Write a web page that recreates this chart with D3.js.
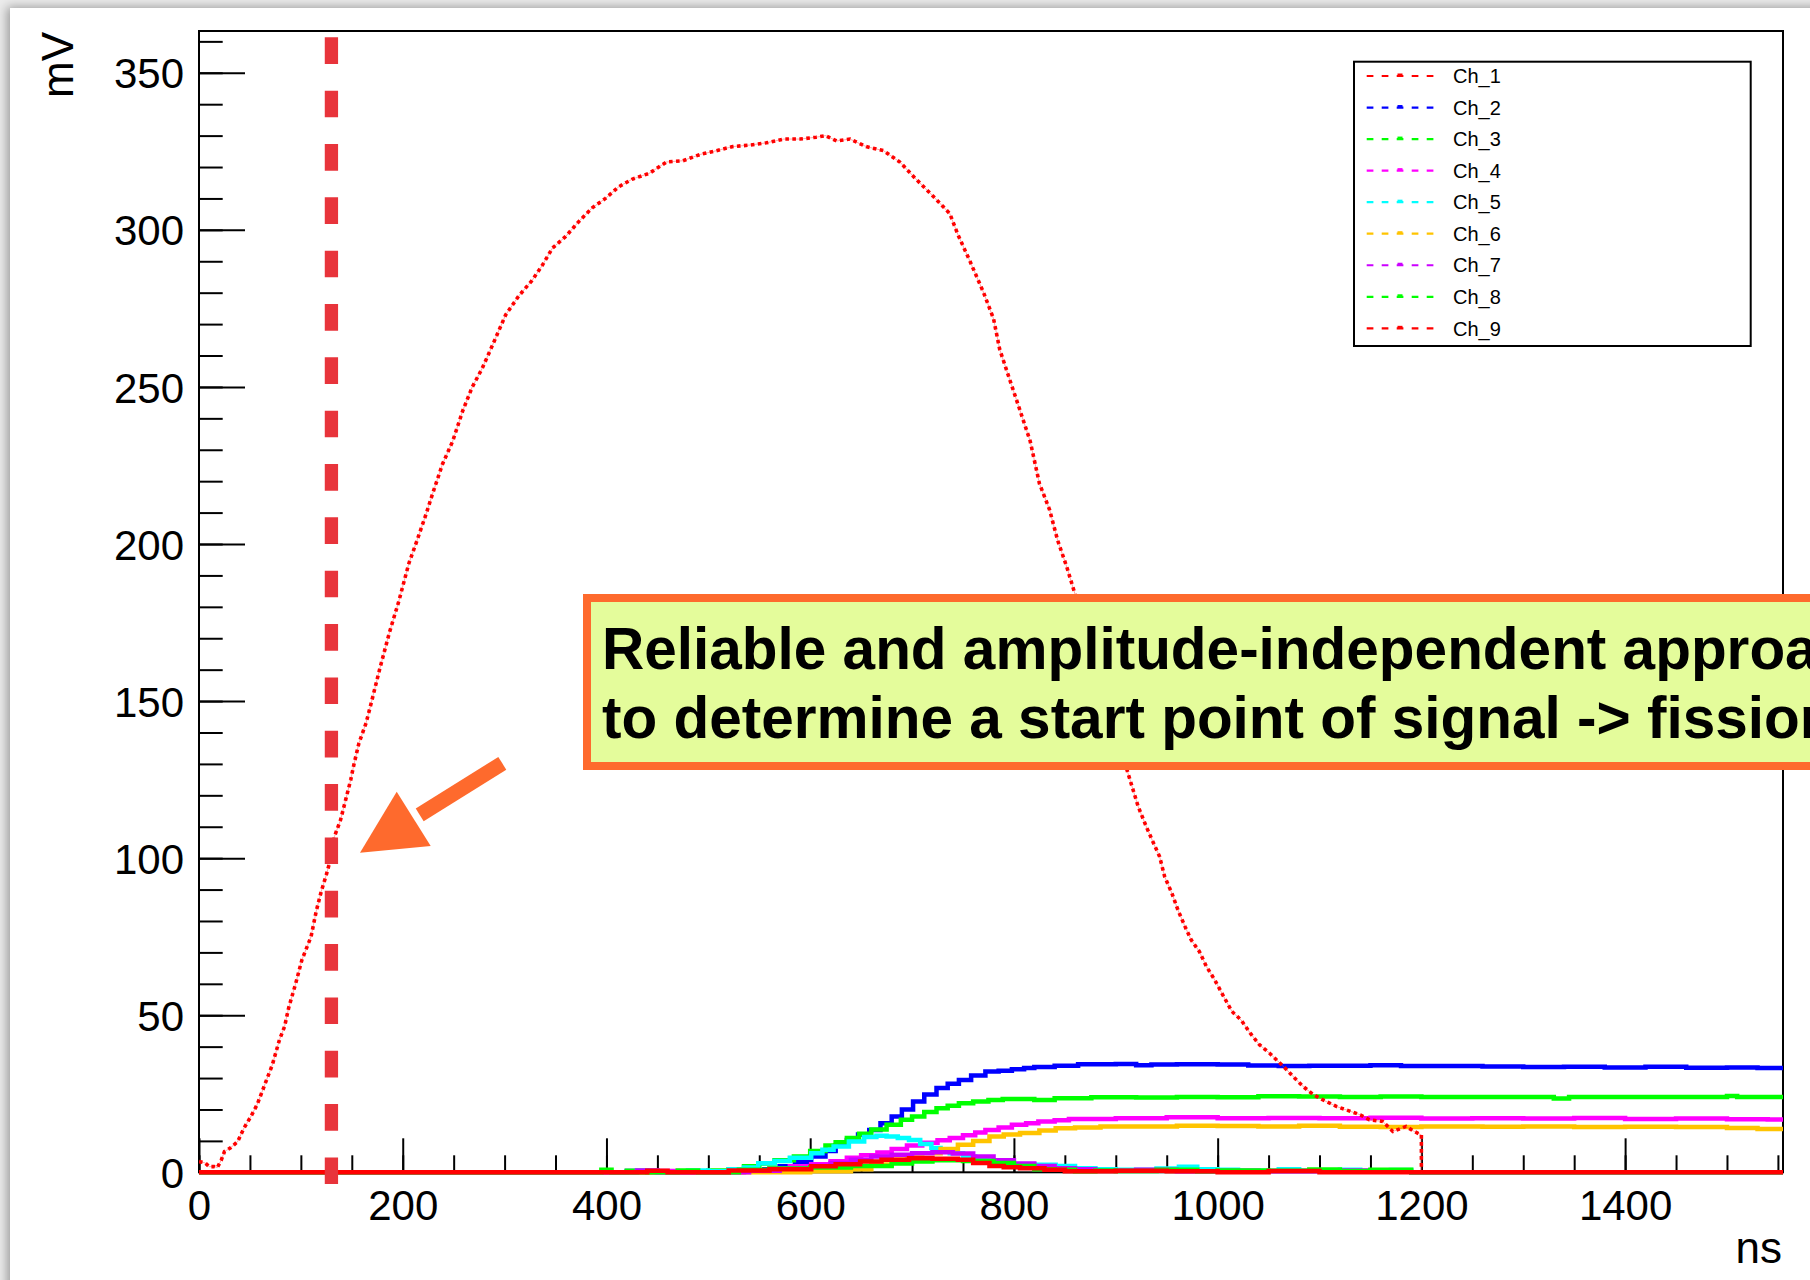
<!DOCTYPE html>
<html><head><meta charset="utf-8">
<script src="https://cdn.jsdelivr.net/npm/d3@7"></script>
<style>
html,body{margin:0;padding:0;background:#ececec;}
body{width:1810px;height:1280px;overflow:hidden;position:relative;font-family:"Liberation Sans",Arial,Helvetica,sans-serif;}
#panel{position:absolute;left:10px;top:8px;width:1820px;height:1300px;background:#fff;box-shadow:-3px -1px 10px rgba(0,0,0,0.35);}
svg{position:absolute;left:0;top:0;}
</style></head>
<body><div id="panel"></div><svg id="chart" width="1810" height="1280"></svg>
<script>
// ---------- data ----------
const channels = ["Ch_1","Ch_2","Ch_3","Ch_4","Ch_5","Ch_6","Ch_7","Ch_8","Ch_9"];
const colors = ["#ff0000","#0000ff","#00ff00","#ff00ff","#00ffff","#ffc400","#cc00ff","#00ff00","#ff0000"];
const xTicksMajor = [0,200,400,600,800,1000,1200,1400];
const yTicksMajor = [0,50,100,150,200,250,300,350];
const xDomain = [0,1555];
const yDomain = [0,363.3];
const startMarkNs = 130;

const ch1 = [[0,3.4],[6,3],[10,1.8],[15,1.8],[18,1.5],[22,4],[25,6.6],[31,7.8],[38,9.8],[44,14],[51,17.8],[57,21.5],[62,25.7],[67,30],[72,34.2],[79,42.2],[84,46.4],[88,52.3],[95,60.2],[101,67.6],[110,75],[115,83],[120,89.4],[125,94.7],[129,99.5],[133,106.9],[139,112.2],[144,118.6],[149,125],[152,129.7],[157,136.6],[164,143],[169,149.3],[177,159.7],[187,171.9],[196,181.6],[206,193.8],[214,201.1],[223,209.6],[229,215.7],[239,225.4],[249,232.7],[259,242.5],[268,249.8],[278,255.9],[288,263.2],[301,272.9],[314,279],[327,283.9],[337,288.7],[347,294.2],[360,297.9],[373,302.7],[386,307],[399,310],[412,313.7],[425,316.1],[442,318],[459,321.6],[475,322],[492,324],[508,325.2],[524,326.5],[541,327],[557,327.7],[574,328.9],[590,328.9],[606,329.5],[615,330],[626,328.3],[639,328.9],[655,326.5],[672,325.2],[688,321.6],[704,316.1],[721,310.6],[737,305.2],[745,298.5],[757,289.9],[770,280.2],[780,271.7],[786,262],[796,252.2],[806,242.5],[816,232.7],[825,219.3],[835,210.9],[843,201.1],[852,192.6],[860,184],[911,128.1],[917,121.7],[922,116.4],[930,110],[937,104.8],[943,100.5],[948,94.1],[955,88.9],[961,83.5],[968,78.2],[974,74],[982,70.3],[989,65.5],[997,61.3],[1005,56.5],[1014,51.2],[1023,48.5],[1032,44.3],[1041,40.6],[1051,37.9],[1061,34.8],[1068,32.6],[1074,30.5],[1084,27.3],[1094,24.7],[1103,23.1],[1117,20.9],[1126,19.9],[1140,18.3],[1149,16.7],[1162,16.2],[1172,13],[1185,14.6],[1193,13],[1200,11.9],[1200,0]];
const ch2 = [[0,0],[400,0],[420,0.4],[440,0],[520,0.5],[540,0.3],[555,1],[570,1.9],[585,3.2],[601,5],[615,6.8],[625,8.5],[636,10.3],[647,12],[658,13.5],[669,15.6],[680,17.8],[690,20],[701,22.5],[712,24.8],[724,26.8],[735,28.2],[746,29.4],[758,30.8],[772,32.1],[785,32.3],[798,32.8],[810,33.2],[820,33.5],[840,33.9],[863,34.4],[900,34.5],[920,34.1],[935,34.3],[960,34.4],[1000,34.3],[1030,34.0],[1060,33.8],[1090,33.9],[1120,33.9],[1150,34.1],[1180,33.8],[1220,33.8],[1260,33.7],[1300,33.5],[1340,33.6],[1380,33.4],[1420,33.6],[1460,33.3],[1500,33.4],[1530,33.2],[1555,32.8]];
const ch3 = [[0,0],[400,0],[420,0.5],[440,0],[500,0.6],[520,1],[535,1.9],[550,2.8],[565,3.8],[584,5],[600,6.8],[615,8.5],[625,9.6],[636,10.9],[648,12.3],[660,13.6],[675,15.1],[689,16.7],[700,17.8],[712,19.2],[724,20.4],[735,21.2],[746,22],[760,22.5],[775,23],[789,23.3],[800,23.3],[820,23],[840,23.6],[876,23.9],[920,23.8],[960,24],[1000,23.9],[1040,24.2],[1080,24.1],[1120,24],[1160,24.1],[1200,24],[1250,24],[1300,24],[1330,23.5],[1345,24],[1400,24],[1480,24],[1500,24.3],[1510,24],[1555,24]];
const ch4 = [[0,0],[400,0],[450,0.4],[470,0],[535,0.6],[560,1.2],[580,1.9],[601,2.6],[620,3.5],[636,4.6],[650,5.4],[666,6.3],[680,7.4],[695,8.5],[710,9.4],[725,10.2],[737,10.9],[750,11.8],[762,12.7],[772,13.5],[785,14.3],[798,15.1],[812,15.6],[824,16.2],[840,16.6],[854,17],[900,17.2],[950,17.5],[1000,17.2],[1050,17.3],[1100,17.2],[1150,17.4],[1200,17.1],[1250,17.2],[1300,17.1],[1350,17.3],[1400,17],[1450,17.1],[1500,16.9],[1540,16.8],[1555,17.1]];
const ch5 = [[0,0],[400,0],[430,0.5],[450,0],[480,0.6],[500,0.3],[520,1],[535,1.5],[549,2.9],[565,3.6],[580,4.6],[601,6.1],[612,7.2],[623,8.2],[638,9.8],[653,11.2],[665,11.6],[675,11.4],[686,10.9],[697,10.3],[708,9],[719,7.7],[728,6.8],[737,6.1],[750,5],[762,4],[775,3.4],[790,2.9],[800,2.6],[820,2.4],[841,2],[860,1.3],[880,1],[900,0.8],[940,1.2],[962,1.8],[980,1],[1000,0.8],[1020,0.5],[1060,1],[1080,0.6],[1120,0.8],[1140,0.4],[1170,0.7],[1190,0],[1555,0]];
const ch6 = [[0,0],[400,0],[560,0],[600,0.3],[640,1],[660,2.5],[680,4],[695,5],[710,6.1],[728,7.4],[745,8.8],[760,10],[776,11.4],[790,12],[806,12.5],[825,13.3],[841,14],[860,14.3],[885,14.6],[930,14.6],[960,14.8],[1000,14.7],[1040,14.6],[1080,14.8],[1120,14.5],[1160,14.4],[1200,14.6],[1260,14.5],[1300,14.6],[1350,14.4],[1400,14.5],[1450,14.4],[1500,14.1],[1530,13.8],[1555,13.8]];
const ch7 = [[0,0],[400,0],[430,0.6],[450,0],[540,0.5],[570,1.2],[600,2],[620,3],[640,4],[660,5],[680,5.6],[700,6.1],[720,6.4],[740,6],[760,5],[780,3.8],[800,2.8],[820,2],[840,1.3],[860,1],[880,0.5],[920,0.8],[960,0.3],[1000,0.5],[1040,0.3],[1100,0.6],[1150,0.2],[1190,0],[1555,0]];
const ch8 = [[0,0],[390,0],[395,0.8],[405,0],[470,0.6],[490,0],[530,0.8],[560,1.2],[600,1.5],[640,2],[680,2.8],[700,3.4],[720,3.8],[750,3.6],[780,3],[800,2],[820,1],[840,0.8],[860,0.3],[880,0.6],[900,0.4],[940,0.8],[980,0.3],[1000,0.6],[1050,0.5],[1090,0.9],[1120,0.4],[1150,0.8],[1190,0],[1555,0]];
const ch9 = [[0,0],[400,0],[420,0],[440,0.5],[460,0],[520,0.6],[560,1],[580,1],[601,1.9],[625,2.6],[649,3.4],[670,4],[697,4.5],[720,4.3],[745,4],[760,3],[776,2],[790,1.6],[806,1.3],[830,0.8],[850,0.3],[900,0.5],[950,0.3],[1000,0],[1050,0.4],[1100,0],[1190,0],[1555,0]];
const series = [ch1,ch2,ch3,ch4,ch5,ch6,ch7,ch8,ch9];

// annotation text
const noteLines = ["Reliable and amplitude-independent approach","to determine a start point of signal -> fission"];

// ---------- drawing ----------
const svg = d3.select("#chart");
const FONT = '"Liberation Sans",Arial,Helvetica,sans-serif';
const x = d3.scaleLinear().domain(xDomain).range([199,1783]);
const y = d3.scaleLinear().domain(yDomain).range([1172.3,31]);

// frame
svg.append("rect").attr("x",x(xDomain[0])).attr("y",y(yDomain[1]))
  .attr("width",x(xDomain[1])-x(xDomain[0])).attr("height",y(yDomain[0])-y(yDomain[1]))
  .attr("fill","none").attr("stroke","#000").attr("stroke-width",2);

// axes
const yMinor = d3.range(0,361,10);
const gyMinor = svg.append("g").attr("transform",`translate(${x(0)},0)`)
  .call(d3.axisLeft(y).tickValues(yMinor).tickSize(-23.7).tickFormat(""));
const gy = svg.append("g").attr("transform",`translate(${x(0)},0)`)
  .call(d3.axisLeft(y).tickValues(yTicksMajor).tickSize(-46).tickPadding(15).tickFormat(d3.format("d")));
const xMinor = d3.range(0,1551,50);
const gxMinor = svg.append("g").attr("transform",`translate(0,${y(0)})`)
  .call(d3.axisBottom(x).tickValues(xMinor).tickSize(-17).tickFormat(""));
const gx = svg.append("g").attr("transform",`translate(0,${y(0)})`)
  .call(d3.axisBottom(x).tickValues(xTicksMajor).tickSize(-34).tickPadding(18).tickFormat(d3.format("d")));
[gyMinor,gy,gxMinor,gx].forEach(g=>{
  g.select(".domain").remove();
  g.selectAll(".tick line").attr("stroke","#000").attr("stroke-width",2);
  g.selectAll("text").attr("font-family",FONT).attr("font-size",42).attr("fill","#000");
});
gy.selectAll("text").attr("dy","0.36em");

// axis titles
svg.append("text").attr("transform","translate(73,32) rotate(-90)")
  .attr("text-anchor","end").attr("font-family",FONT).attr("font-size",44).text("mV");
svg.append("text").attr("x",1782).attr("y",1263).attr("text-anchor","end")
  .attr("font-family",FONT).attr("font-size",44).text("ns");

// traces
svg.append("clipPath").attr("id","frameclip").append("rect")
  .attr("x",x(0)).attr("y",y(yDomain[1])).attr("width",x(xDomain[1])-x(0)).attr("height",y(-3)-y(yDomain[1]));
const gT = svg.append("g").attr("clip-path","url(#frameclip)");
const stepLine = d3.line().x(d=>x(d[0])).y(d=>y(d[1])).curve(d3.curveStepAfter);
for(let i=1;i<series.length;i++){
  gT.append("path").datum(series[i]).attr("d",stepLine).attr("fill","none")
    .attr("stroke",colors[i]).attr("stroke-width",4.5).attr("stroke-linejoin","miter");
}
const lin = d3.line().x(d=>x(d[0])).y(d=>y(d[1]));
gT.append("path").datum(ch1).attr("d",lin).attr("fill","none")
  .attr("stroke","rgba(255,60,60,0.45)").attr("stroke-width",1);
gT.append("path").datum(ch1).attr("d",lin).attr("fill","none")
  .attr("stroke",colors[0]).attr("stroke-width",3.6).attr("stroke-dasharray","3.6 3.4");

// start-point marker line
svg.append("line").attr("x1",x(startMarkNs)).attr("x2",x(startMarkNs))
  .attr("y1",37.3).attr("y2",1184).attr("stroke","#e8343b").attr("stroke-width",13.3)
  .attr("stroke-dasharray","26.67 26.67");

// legend
const lg = svg.append("g");
lg.append("rect").attr("x",1354).attr("y",61.7).attr("width",396.7).attr("height",284.3)
  .attr("fill","#fff").attr("stroke","#000").attr("stroke-width",2);
channels.forEach((c,i)=>{
  const cy = 76 + i*31.54;
  lg.append("line").attr("x1",1366.7).attr("x2",1434).attr("y1",cy).attr("y2",cy)
    .attr("stroke",colors[i]).attr("stroke-width",2.2).attr("stroke-dasharray","6.7 8.3");
  lg.append("rect").attr("x",1397.5).attr("y",cy-2.5).attr("width",5).attr("height",2.5).attr("fill",colors[i]);
  lg.append("text").attr("x",1453).attr("y",cy+7.2).attr("font-family",FONT).attr("font-size",20).text(c);
});

// annotation box
const ag = svg.append("g");
ag.append("rect").attr("x",587).attr("y",598).attr("width",1300).attr("height",168)
  .attr("fill","#e4fc9b").attr("stroke","#fe6a2d").attr("stroke-width",8);
noteLines.forEach((t,i)=>{
  ag.append("text").attr("x",602).attr("y",668.5+i*69).attr("font-family",FONT)
    .attr("font-weight","bold").attr("font-size",58.5).attr("fill","#000").text(t);
});
// arrow
const tail=[502.3,763.3], tip=[360,852.7], c1=[396.7,791.7], c2=[430.7,846];
const bm=[(c1[0]+c2[0])/2,(c1[1]+c2[1])/2];
ag.append("line").attr("x1",tail[0]).attr("y1",tail[1]).attr("x2",bm[0]+6).attr("y2",bm[1]-4)
  .attr("stroke","#fe6a2d").attr("stroke-width",15);
ag.append("polygon").attr("points",[tip,c1,c2].map(p=>p.join(",")).join(" ")).attr("fill","#fe6a2d");
</script></body></html>
